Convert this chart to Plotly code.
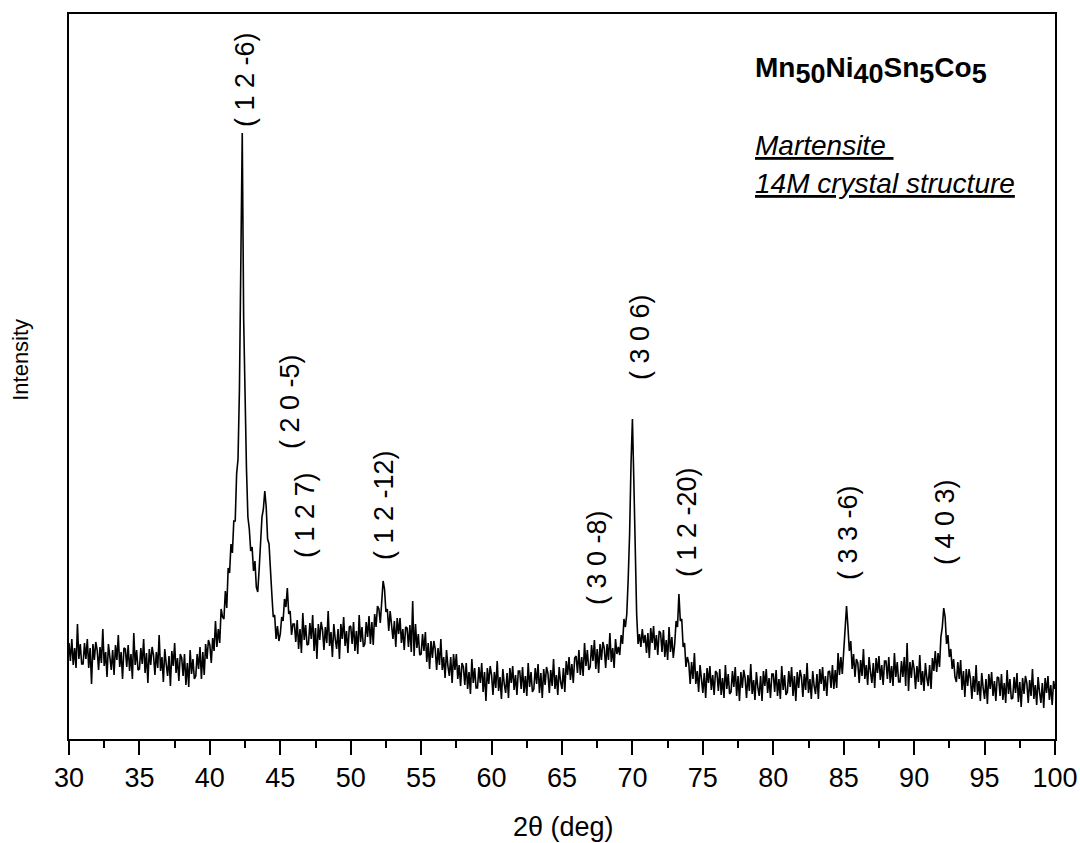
import plotly.graph_objects as go

# ---- data ----
two_theta_start = 30.0
two_theta_step = 0.1
intensity_rows = [
    [96, 78, 100, 74, 91, 71, 115, 80, 95, 75],      # 30
    [75, 96, 80, 100, 71, 91, 55, 95, 79, 97],       # 31
    [89, 69, 92, 76, 110, 73, 87, 62, 95, 80],       # 32
    [69, 89, 64, 94, 79, 104, 72, 87, 60, 91],       # 33
    [90, 72, 94, 68, 85, 60, 106, 74, 89, 69],       # 34
    [70, 91, 75, 100, 66, 86, 56, 90, 74, 92],       # 35
    [84, 64, 87, 71, 104, 68, 82, 57, 90, 75],       # 36
    [63, 83, 53, 88, 73, 96, 66, 81, 58, 85],        # 37
    [81, 63, 85, 54, 76, 52, 89, 65, 80, 60],        # 38
    [63, 85, 70, 92, 60, 87, 64, 95, 80, 99],        # 39
    [94, 76, 101, 88, 118, 92, 110, 96, 130, 122],   # 40
    [120, 148, 131, 171, 166, 195, 186, 218, 218, 265],  # 41
    [280, 350, 470, 606, 420, 318, 270, 222, 210, 188],  # 42
    [192, 168, 178, 152, 147, 170, 196, 222, 230, 248],  # 43
    [232, 200, 195, 162, 145, 122, 124, 100, 113, 98],   # 44
    [105, 122, 118, 140, 132, 151, 125, 128, 104, 115],  # 45
    [115, 97, 119, 90, 110, 86, 126, 99, 114, 94],   # 46
    [95, 116, 100, 124, 88, 111, 80, 115, 99, 117],  # 47
    [109, 89, 112, 96, 128, 93, 107, 82, 115, 100],  # 48
    [90, 110, 80, 115, 100, 122, 93, 108, 86, 112],  # 49
    [113, 95, 117, 88, 108, 85, 124, 97, 112, 92],   # 50
    [95, 117, 102, 123, 95, 117, 94, 125, 112, 133], # 51
    [130, 116, 140, 158, 150, 127, 130, 108, 128, 112],  # 52
    [100, 118, 92, 121, 105, 121, 96, 110, 89, 112],  # 53
    [111, 92, 114, 87, 138, 83, 115, 91, 105, 84],   # 54
    [85, 105, 88, 107, 77, 96, 70, 98, 81, 98],      # 55
    [90, 69, 91, 74, 100, 69, 82, 61, 89, 73],       # 56
    [63, 82, 56, 85, 69, 85, 60, 74, 53, 76],        # 57
    [72, 54, 76, 50, 67, 45, 80, 56, 71, 51],        # 58
    [51, 72, 56, 76, 47, 67, 38, 71, 55, 73],        # 59
    [64, 44, 67, 51, 78, 48, 62, 40, 70, 55],        # 60
    [46, 66, 41, 71, 56, 73, 49, 64, 44, 68],        # 61
    [68, 50, 72, 46, 63, 43, 76, 52, 67, 47],        # 62
    [50, 71, 55, 75, 46, 66, 41, 70, 54, 72],        # 63
    [66, 46, 69, 53, 80, 50, 64, 44, 72, 57],        # 64
    [50, 71, 47, 78, 64, 82, 59, 75, 56, 81],        # 65
    [83, 66, 89, 64, 82, 63, 96, 73, 89, 69],        # 66
    [72, 94, 78, 99, 70, 90, 66, 95, 79, 97],        # 67
    [91, 71, 95, 79, 106, 77, 91, 71, 100, 85],      # 68
    [92, 84, 104, 95, 120, 112, 125, 160, 205, 275], # 69
    [320, 258, 180, 125, 95, 105, 92, 110, 96, 104], # 70
    [86, 106, 81, 111, 96, 113, 89, 104, 84, 108],   # 71
    [106, 87, 109, 82, 99, 79, 112, 87, 102, 81],    # 72
    [95, 118, 112, 145, 118, 120, 92, 96, 72, 82],   # 73
    [76, 55, 77, 60, 86, 55, 68, 47, 74, 58],        # 74
    [46, 66, 41, 71, 56, 73, 49, 64, 44, 68],        # 75
    [66, 48, 70, 44, 61, 41, 74, 50, 65, 45],        # 76
    [47, 68, 52, 72, 43, 63, 38, 67, 51, 69],        # 77
    [61, 41, 64, 48, 75, 45, 59, 39, 67, 52],        # 78
    [43, 63, 38, 68, 53, 70, 46, 61, 41, 65],        # 79
    [65, 47, 69, 43, 60, 40, 73, 49, 64, 44],        # 80
    [47, 68, 52, 72, 43, 63, 38, 67, 51, 69],        # 81
    [62, 42, 65, 49, 76, 46, 60, 40, 68, 53],        # 82
    [45, 65, 40, 70, 55, 72, 48, 63, 43, 67],        # 83
    [68, 51, 74, 50, 69, 51, 86, 64, 82, 65],        # 84
    [92, 108, 133, 112, 88, 98, 70, 85, 62, 80],     # 85
    [76, 56, 79, 63, 90, 60, 74, 54, 82, 67],        # 86
    [56, 76, 51, 81, 66, 83, 59, 74, 54, 78],        # 87
    [78, 60, 82, 56, 73, 53, 86, 62, 77, 57],        # 88
    [57, 78, 62, 82, 53, 96, 48, 77, 61, 79],        # 89
    [70, 50, 73, 57, 84, 54, 68, 48, 76, 61],        # 90
    [53, 74, 50, 81, 68, 88, 67, 86, 72, 102],       # 91
    [112, 131, 122, 95, 104, 82, 90, 70, 80, 62],    # 92
    [57, 77, 60, 79, 49, 68, 42, 70, 53, 70],        # 93
    [60, 40, 63, 47, 74, 44, 58, 38, 66, 51],        # 94
    [40, 60, 35, 65, 50, 67, 43, 58, 38, 62],        # 95
    [61, 43, 65, 39, 56, 36, 69, 45, 60, 40],        # 96
    [41, 62, 46, 66, 37, 57, 32, 61, 45, 63],        # 97
    [56, 36, 59, 43, 70, 40, 54, 34, 62, 47],        # 98
    [36, 56, 31, 61, 46, 63, 39, 54, 34, 58],        # 99
    [50],                                            # 100
]
intensity = [v for row in intensity_rows for v in row]
two_theta = [round(two_theta_start + two_theta_step * i, 1) for i in range(len(intensity))]

peak_labels = ["( 1 2 -6)", "( 2 0 -5)", "( 1 2 7)", "( 1 2 -12)", "( 3 0 -8)",
               "( 3 0 6)", "( 1 2 -20)", "( 3 3 -6)", "( 4 0 3)"]
label_x = [42.49, 45.69, 46.75, 52.36, 67.48, 70.54, 73.87, 85.30, 92.19]
label_y = [660, 337, 224, 234, 182, 402, 217, 207, 217]

x_ticks = list(range(30, 101, 5))

FONT = "Liberation Sans, Arial, sans-serif"

fig = go.Figure()
fig.add_trace(go.Scatter(
    x=two_theta, y=intensity, mode="lines",
    line=dict(color="black", width=1.6),
    hoverinfo="skip", showlegend=False,
))

annotations = []
for t, lx, ly in zip(peak_labels, label_x, label_y):
    annotations.append(dict(
        x=lx, y=ly, xref="x", yref="y", text=t, textangle=-90,
        showarrow=False, xanchor="center", yanchor="middle",
        font=dict(family=FONT, size=27, color="black"),
    ))

sub = "<sub><span style='font-size:27px'>{}</span></sub>"
formula = ("<b>Mn" + sub.format("50") + "Ni" + sub.format("40") +
           "Sn" + sub.format("5") + "Co" + sub.format("5") + "</b>")
annotations += [
    dict(x=0.6937, y=0.922, xref="paper", yref="paper", text=formula,
         showarrow=False, xanchor="left", yanchor="middle",
         font=dict(family=FONT, size=28, color="black")),
    dict(x=0.6937, y=0.819, xref="paper", yref="paper",
         text="<i><u>Martensite </u></i>",
         showarrow=False, xanchor="left", yanchor="middle",
         font=dict(family=FONT, size=28, color="black")),
    dict(x=0.6937, y=0.7665, xref="paper", yref="paper",
         text="<i><u>14M crystal structure</u></i>",
         showarrow=False, xanchor="left", yanchor="middle",
         font=dict(family=FONT, size=28, color="black")),
    dict(x=0.502, y=-0.122, xref="paper", yref="paper", text="2θ (deg)",
         showarrow=False, xanchor="center", yanchor="middle",
         font=dict(family=FONT, size=27, color="black")),
    dict(x=-0.0487, y=0.523, xref="paper", yref="paper", text="Intensity",
         textangle=-90, showarrow=False, xanchor="center", yanchor="middle",
         font=dict(family=FONT, size=22, color="black")),
]

fig.update_layout(
    width=1080, height=843,
    margin=dict(l=69, r=25, t=14, b=104, autoexpand=False),
    paper_bgcolor="white", plot_bgcolor="white",
    font=dict(family=FONT, color="black"),
    annotations=annotations,
    xaxis=dict(
        range=[30, 100], tickvals=x_ticks, ticktext=[str(v) for v in x_ticks],
        showline=True, linecolor="black", linewidth=2, mirror=True,
        ticks="outside", ticklen=14, tickwidth=2, tickcolor="black",
        minor=dict(tickvals=[v + 2.5 for v in x_ticks[:-1]], ticks="outside",
                   ticklen=7, tickwidth=2, tickcolor="black", showgrid=False),
        showgrid=False, zeroline=False, automargin=False,
        tickfont=dict(family=FONT, size=27, color="black"),
        ticklabelstandoff=0,
    ),
    yaxis=dict(
        range=[0, 725], showline=True, linecolor="black", linewidth=2,
        mirror=True, ticks="", showticklabels=False, showgrid=False,
        zeroline=False, automargin=False,
    ),
)

fig.write_html("out.html",
               config={"displayModeBar": False},
               post_script="document.body.style.margin='0px';"
                           "document.body.style.overflow='hidden';")
